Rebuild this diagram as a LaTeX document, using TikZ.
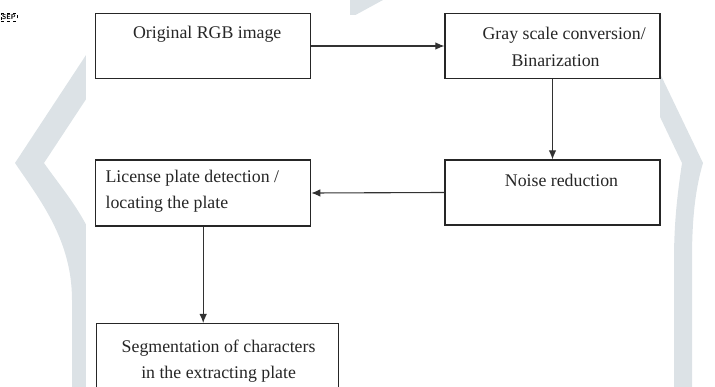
\documentclass[tikz,border=0pt]{standalone}
\usepackage{fontspec}
\setmainfont{Liberation Serif}
\usetikzlibrary{positioning,arrows.meta}

\definecolor{markgray}{RGB}{220,226,230}
\definecolor{linegray}{RGB}{50,50,50}

\tikzset{
  stepbox/.style={draw=black!85, line width=1.2pt, minimum width=215pt,
    minimum height=65pt, inner sep=0pt},
  steptext/.style={inner sep=0pt, text=black!85, font=\fontsize{17.8}{26.5}\selectfont},
  flow/.style={draw=linegray, line width=1.1pt, -{Latex[length=9pt,width=7.5pt]}}
}

\begin{document}
\begin{tikzpicture}[x=1pt,y=-1pt]
\useasboundingbox (0,0) rectangle (715,387);
\clip (0,0) rectangle (715,387);
% watermark in the background
\fill[markgray] (90,49) -- (15,163) .. controls (40,200) and (72,240) .. (72,300)
  -- (72,390) -- (110,390) -- (110,300) .. controls (100,230) and (70,200) .. (44,163)
  -- (100,78) -- cycle;
\fill[markgray] (655,63) -- (703,163) .. controls (695,190) and (692,220) .. (692,260)
  -- (692,390) -- (674,390) -- (674,260) .. controls (674,220) and (678,190) .. (682,163)
  -- (650,96) -- cycle;
\fill[markgray] (350,0) -- (383,0) -- (350,18) -- cycle;
\fill[white] (86,15) rectangle (660,390);
\node[draw, dashed, font=\sffamily\bfseries\fontsize{7}{7}\selectfont, inner sep=1pt,
  anchor=south east] (sep) at (17,21) {SEP};

% the steps
\node[stepbox] (rgb) at (203.2,46) {};
\node[stepbox] (gray) at (552.5,46) {};
\node[stepbox] (noise) at (552.5,192.5) {};
\node[stepbox, minimum height=66pt] (plate) at (203.2,193) {};
\node[stepbox, minimum width=242pt, minimum height=90pt, anchor=north west] (seg) at (96,323) {};

\node[steptext, below=13.4pt of rgb.north, xshift=4pt] (rgbtext) {Original RGB image};
\node[steptext, align=left, below right=14.4pt and 38pt of gray.north west] (graytext)
  {Gray scale conversion/\\\hspace*{29pt}Binarization};
\node[steptext, below=14.7pt of noise.north, xshift=9pt] (noisetext) {Noise reduction};
\node[steptext, align=left, below right=10.4pt and 10.3pt of plate.north west] (platetext)
  {License plate detection /\\locating the plate};
\node[steptext, align=center, below=16.4pt of seg.north, xshift=1pt] (segtext)
  {Segmentation of characters\\in the extracting plate};

% arrows
\draw[flow] (rgb.east) -- (gray.west);
\draw[flow] (gray.south) -- (noise.north);
\draw[flow] (noise.west) -- (plate.east);
\draw[flow] (plate.south) -- (plate.south |- seg.north);
\end{tikzpicture}
\end{document}
